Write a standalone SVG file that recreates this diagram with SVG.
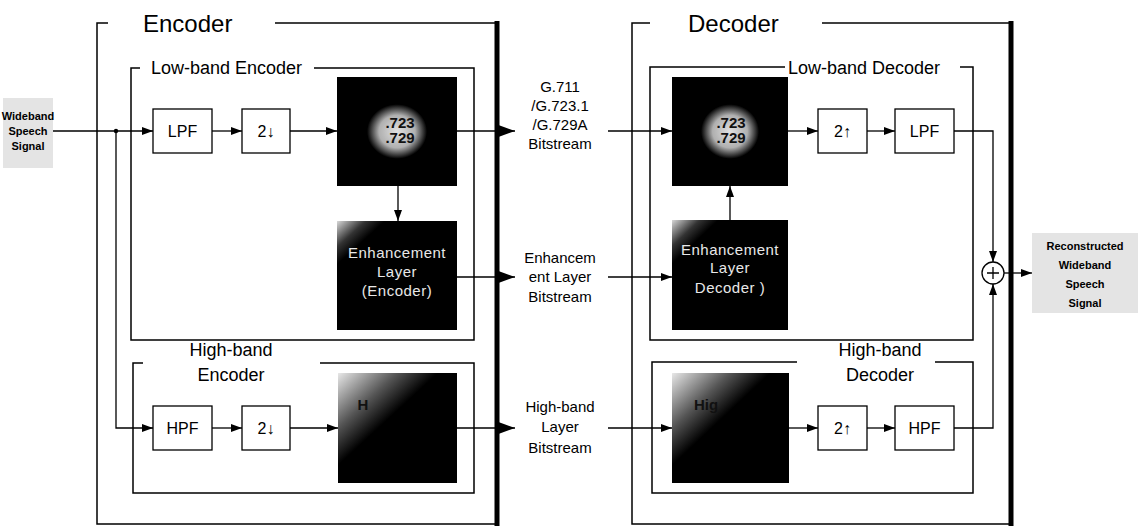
<svg xmlns="http://www.w3.org/2000/svg" width="1143" height="528" viewBox="0 0 1143 528">
<style>
.frame{fill:none;stroke:#000;stroke-width:1.5}
.thick{fill:none;stroke:#000;stroke-width:5}
.box{fill:#fff;stroke:#000;stroke-width:1.3}
.c{fill:none;stroke:#000;stroke-width:1.3}
.title{font-family:"Liberation Sans","DejaVu Sans",sans-serif;font-size:24px;fill:#000}
.sub{font-family:"Liberation Sans","DejaVu Sans",sans-serif;font-size:18px;fill:#000}
.lbl{font-family:"Liberation Sans","DejaVu Sans",sans-serif;font-size:15px;fill:#000;text-anchor:middle}
.bt{font-family:"Liberation Sans","DejaVu Sans",sans-serif;font-size:16px;fill:#000;text-anchor:middle}
.wt{font-family:"Liberation Sans","DejaVu Sans",sans-serif;font-size:15px;fill:#e8e8e8;text-anchor:middle;letter-spacing:0.5px}
.gt{font-family:"Liberation Sans","DejaVu Sans",sans-serif;font-size:15px;fill:#111;text-anchor:middle;font-weight:bold}
.sig{font-family:"Liberation Sans","DejaVu Sans",sans-serif;font-size:11px;font-weight:bold;fill:#000;text-anchor:middle}
.sigbg{fill:#e4e4e4}
</style>
<defs>
<marker id="a" markerUnits="userSpaceOnUse" markerWidth="11" markerHeight="8" refX="11" refY="4" orient="auto"><path d="M0,0 L11,4 L0,8 z" fill="#000"/></marker>
<marker id="A" markerUnits="userSpaceOnUse" markerWidth="18" markerHeight="13" refX="18" refY="6.5" orient="auto"><path d="M0,0 L18,6.5 L0,13 z" fill="#000"/></marker>
<radialGradient id="rg" cx="0.5" cy="0.5" r="0.5">
<stop offset="0" stop-color="#e0e0e0"/><stop offset="0.3" stop-color="#b0b0b0"/><stop offset="0.5" stop-color="#000"/><stop offset="1" stop-color="#000"/>
</radialGradient>
<linearGradient id="lg" x1="0" y1="0" x2="1" y2="1">
<stop offset="0" stop-color="#e8e8e8"/><stop offset="0.25" stop-color="#555"/><stop offset="0.42" stop-color="#000"/><stop offset="1" stop-color="#000"/>
</linearGradient>
<linearGradient id="lg2" x1="0" y1="0" x2="1" y2="1">
<stop offset="0" stop-color="#d8d8d8"/><stop offset="0.12" stop-color="#333"/><stop offset="0.2" stop-color="#000"/><stop offset="1" stop-color="#000"/>
</linearGradient>
</defs>

<g id="encoder">
<path class="frame" d="M108,23 H97 V524 H497"/>
<path class="frame" d="M275,23 H497"/>
<line class="thick" x1="497" y1="21" x2="497" y2="526"/>
<text class="title" x="143" y="32">Encoder</text>
</g>
<g id="lowband-encoder">
<path class="frame" d="M140,68 H131 V340 H474 V68 H314"/>
<text class="sub" x="151" y="74">Low-band Encoder</text>
</g>
<g id="highband-encoder">
<path class="frame" d="M143,363 H133 V493 H474 V363 H320"/>
<text class="sub" x="231" y="356" text-anchor="middle">High-band</text>
<text class="sub" x="231" y="381" text-anchor="middle">Encoder</text>
</g>

<g id="decoder">
<path class="frame" d="M650,23 H632 V524 H1011"/>
<path class="frame" d="M822,23 H1011"/>
<line class="thick" x1="1011" y1="21" x2="1011" y2="526"/>
<text class="title" x="688" y="32">Decoder</text>
</g>
<g id="lowband-decoder">
<path class="frame" d="M785,67 H650 V340 H973 V67 H960"/>
<text class="sub" x="788" y="74">Low-band Decoder</text>
</g>
<g id="highband-decoder">
<path class="frame" d="M797,362 H652 V493 H973 V362 H935"/>
<text class="sub" x="880" y="356" text-anchor="middle">High-band</text>
<text class="sub" x="880" y="381" text-anchor="middle">Decoder</text>
</g>

<g id="input">
<rect class="sigbg" x="3" y="98" width="50" height="70"/>
<text class="sig" x="28" y="120">Wideband</text>
<text class="sig" x="28" y="135">Speech</text>
<text class="sig" x="28" y="150">Signal</text>
</g>
<g id="output">
<rect class="sigbg" x="1032" y="233" width="106" height="80"/>
<text class="sig" x="1085" y="250">Reconstructed</text>
<text class="sig" x="1085" y="269">Wideband</text>
<text class="sig" x="1085" y="288">Speech</text>
<text class="sig" x="1085" y="307">Signal</text>
</g>

<g id="enc-lpf"><rect class="box" x="153" y="109" width="59" height="44"/><text class="bt" x="182.5" y="137">LPF</text></g>
<g id="enc-down1"><rect class="box" x="242" y="109" width="48" height="44"/><text class="bt" x="266" y="137">2↓</text></g>
<g id="enc-core">
<rect x="337" y="77" width="120" height="109" fill="url(#rg)"/>
<text class="gt" x="400" y="128">.723</text>
<text class="gt" x="400" y="143">.729</text>
</g>
<g id="enc-enh">
<rect x="337" y="221" width="120" height="109" fill="url(#lg2)"/>
<text class="wt" x="397" y="258">Enhancement</text>
<text class="wt" x="397" y="277">Layer</text>
<text class="wt" x="397" y="296">(Encoder)</text>
</g>
<g id="enc-hpf"><rect class="box" x="153" y="406" width="59" height="44"/><text class="bt" x="182.5" y="434">HPF</text></g>
<g id="enc-down2"><rect class="box" x="242" y="406" width="48" height="44"/><text class="bt" x="266" y="434">2↓</text></g>
<g id="enc-hb">
<rect x="338" y="373" width="119" height="110" fill="url(#lg)"/>
<text class="gt" x="363" y="410" fill="#333">H</text>
</g>

<g id="bs-low">
<text class="lbl" x="560" y="92">G.711</text>
<text class="lbl" x="560" y="111">/G.723.1</text>
<text class="lbl" x="560" y="130">/G.729A</text>
<text class="lbl" x="560" y="149">Bitstream</text>
</g>
<g id="bs-enh">
<text class="lbl" x="560" y="263">Enhancem</text>
<text class="lbl" x="560" y="282">ent Layer</text>
<text class="lbl" x="560" y="302">Bitstream</text>
</g>
<g id="bs-high">
<text class="lbl" x="560" y="412">High-band</text>
<text class="lbl" x="560" y="432">Layer</text>
<text class="lbl" x="560" y="453">Bitstream</text>
</g>

<g id="dec-core">
<rect x="672" y="77" width="116" height="109" fill="url(#rg)"/>
<text class="gt" x="731" y="128">.723</text>
<text class="gt" x="731" y="143">.729</text>
</g>
<g id="dec-up1"><rect class="box" x="818" y="109" width="49" height="44"/><text class="bt" x="842.5" y="137">2↑</text></g>
<g id="dec-lpf"><rect class="box" x="895" y="109" width="59" height="44"/><text class="bt" x="924.5" y="137">LPF</text></g>
<g id="dec-enh">
<rect x="672" y="220" width="116" height="110" fill="url(#lg2)"/>
<text class="wt" x="730" y="255">Enhancement</text>
<text class="wt" x="730" y="273">Layer</text>
<text class="wt" x="730" y="293">Decoder )</text>
</g>
<g id="dec-hb">
<rect x="672" y="373" width="117" height="110" fill="url(#lg)"/>
<text class="gt" x="706" y="410" fill="#333">Hig</text>
</g>
<g id="dec-up2"><rect class="box" x="818" y="406" width="49" height="44"/><text class="bt" x="842.5" y="434">2↑</text></g>
<g id="dec-hpf"><rect class="box" x="895" y="406" width="59" height="44"/><text class="bt" x="924.5" y="434">HPF</text></g>
<g id="sum">
<circle cx="993" cy="273" r="11" fill="#fff" stroke="#000" stroke-width="1.3"/>
<path d="M987,273 H999 M993,267 V279" stroke="#000" stroke-width="1.3"/>
</g>

<g id="connectors">
<line class="c" x1="53" y1="131" x2="153" y2="131" marker-end="url(#a)"/>
<circle cx="116" cy="131" r="2.2" fill="#000"/>
<path class="c" d="M116,131 V428 H153" marker-end="url(#a)"/>
<line class="c" x1="212" y1="131" x2="242" y2="131" marker-end="url(#a)"/>
<line class="c" x1="290" y1="131" x2="337" y2="131" marker-end="url(#a)"/>
<line class="c" x1="457" y1="131" x2="515" y2="131" marker-end="url(#A)"/>
<line class="c" x1="398" y1="186" x2="398" y2="221" marker-end="url(#a)"/>
<line class="c" x1="457" y1="277" x2="515" y2="277" marker-end="url(#A)"/>
<line class="c" x1="212" y1="428" x2="242" y2="428" marker-end="url(#a)"/>
<line class="c" x1="290" y1="428" x2="338" y2="428" marker-end="url(#a)"/>
<line class="c" x1="457" y1="428" x2="515" y2="428" marker-end="url(#A)"/>
<line class="c" x1="608" y1="131" x2="672" y2="131" marker-end="url(#a)"/>
<line class="c" x1="608" y1="277" x2="672" y2="277" marker-end="url(#a)"/>
<line class="c" x1="608" y1="428" x2="672" y2="428" marker-end="url(#a)"/>
<line class="c" x1="730" y1="220" x2="730" y2="186" marker-end="url(#a)"/>
<line class="c" x1="788" y1="131" x2="818" y2="131" marker-end="url(#a)"/>
<line class="c" x1="867" y1="131" x2="895" y2="131" marker-end="url(#a)"/>
<path class="c" d="M954,131 H993 V262" marker-end="url(#a)"/>
<line class="c" x1="789" y1="428" x2="818" y2="428" marker-end="url(#a)"/>
<line class="c" x1="867" y1="428" x2="895" y2="428" marker-end="url(#a)"/>
<path class="c" d="M954,428 H993 V284" marker-end="url(#a)"/>
<line class="c" x1="1004" y1="273" x2="1032" y2="273" marker-end="url(#a)"/>
</g>
</svg>
